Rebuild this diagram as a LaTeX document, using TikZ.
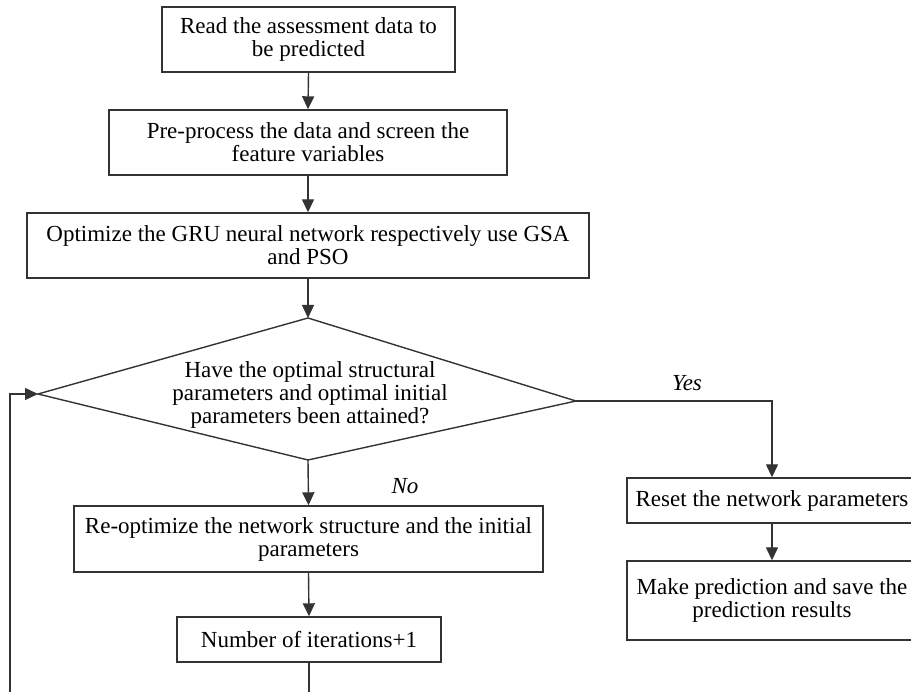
\documentclass[tikz,border=0pt]{standalone}
\usepackage{fontspec}
\setmainfont{Liberation Serif}
\usetikzlibrary{arrows.meta}
\definecolor{linec}{HTML}{333333}
\begin{document}
\begin{tikzpicture}[x=1pt,y=-1pt,
  box/.style={draw=linec, line width=1.4pt, rectangle, inner sep=0pt, align=center,
              font=\fontsize{23}{23}\selectfont},
  arr/.style={draw=linec, line width=1.4pt, -{Triangle[length=13pt,width=12pt]}},
  ln/.style={draw=linec, line width=1.4pt},
  lbl/.style={inner sep=0pt, font=\fontsize{23}{23}\selectfont\itshape},
  dtext/.style={inner sep=0pt, align=center, font=\fontsize{23}{23}\selectfont}]
\useasboundingbox (0,0) rectangle (911,692);

\node[box, minimum width=293pt, minimum height=65pt] (b1) at (308.5,39.5)
  {Read the assessment data to\\be predicted};
\node[box, minimum width=398pt, minimum height=65pt] (b2) at (308,142.5)
  {Pre-process the data and screen the\\feature variables};
\node[box, minimum width=562pt, minimum height=65pt] (b3) at (308,245.5)
  {Optimize the GRU neural network respectively use GSA\\and PSO};

% decision diamond
\coordinate (dtop) at (308,318);
\coordinate (dright) at (576,401);
\coordinate (dbot) at (308,460);
\coordinate (dleft) at (38,394);
\draw[ln, line join=miter] (dtop) -- (dright) -- (dbot) -- (dleft) -- cycle;
\node[dtext] (dtxt) at (310,395)
  {Have the optimal structural\\parameters and optimal initial\\parameters been attained?};

\node[box, minimum width=469pt, minimum height=66pt] (b4) at (308.5,539)
  {Re-optimize the network structure and the initial\\parameters};
\node[box, minimum width=264pt, minimum height=45pt] (b5) at (309,639.5)
  {Number of iterations+1};

\node[box, minimum width=290pt, minimum height=45pt] (b6) at (772,500.5)
  {Reset the network parameters};
\node[box, minimum width=290pt, minimum height=79pt] (b7) at (772,600.5)
  {Make prediction and save the\\prediction results};

\coordinate (loopbot) at (10,692);
\coordinate (itbot) at (309,692);

\draw[arr] (b1.south) -- (b2.north);
\draw[arr] (b2.south) -- (b3.north);
\draw[arr] (b3.south) -- (dtop);
\draw[arr] (dbot) -- (b4.north);
\draw[arr] (b4.south) -- (b5.north);
\draw[ln] (b5.south) -- (itbot);
\draw[arr] (loopbot) |- (dleft);
\draw[arr] (dright) -| (b6.north);
\draw[arr] (b6.south) -- (b7.north);

\node[lbl] (yes) at (687,383) {Yes};
\node[lbl] (no) at (405,486) {No};
\end{tikzpicture}
\end{document}
